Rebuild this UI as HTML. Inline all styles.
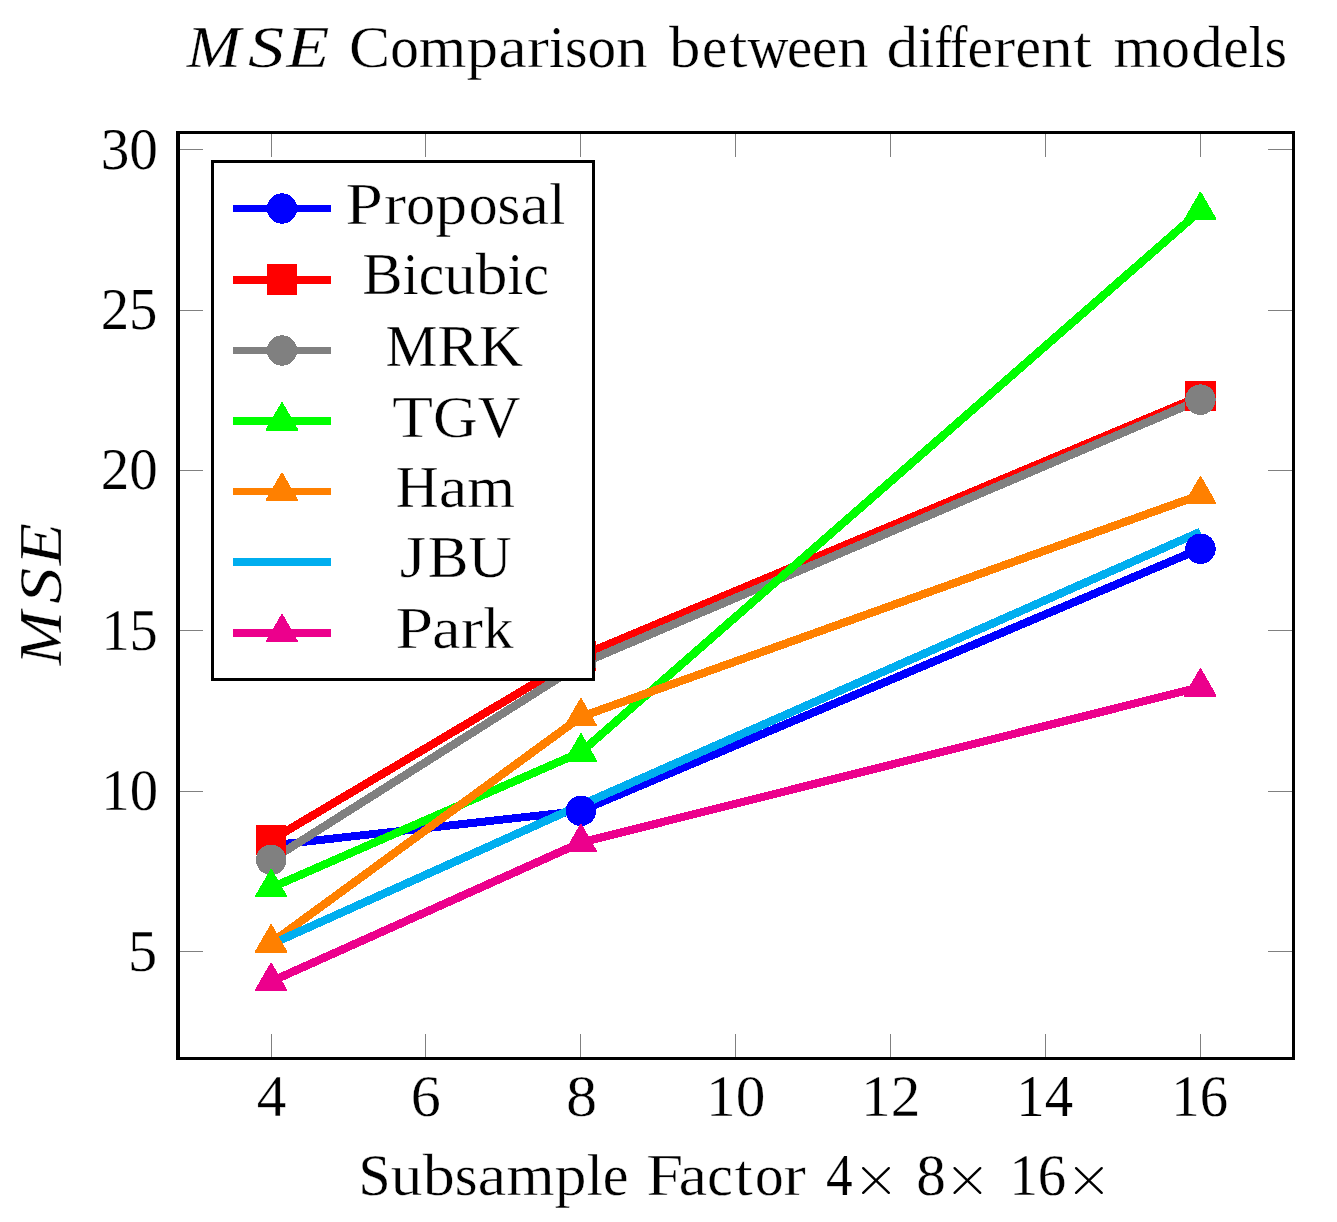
<!DOCTYPE html>
<html lang="en"><head><meta charset="utf-8"><title>MSE Comparison</title><style>html,body{margin:0;padding:0;background:#fff}svg{display:block}</style></head><body>
<svg width="1337" height="1222" viewBox="0 0 1337 1222" font-family="'Liberation Serif', serif" fill="#000">
<rect width="1337" height="1222" fill="#fff"/>
<g fill="#808080" shape-rendering="crispEdges">
<rect x="271" y="1034" width="1" height="23"/><rect x="271" y="134" width="1" height="23"/>
<rect x="425" y="1034" width="1" height="23"/><rect x="425" y="134" width="1" height="23"/>
<rect x="580" y="1034" width="1" height="23"/><rect x="580" y="134" width="1" height="23"/>
<rect x="735" y="1034" width="1" height="23"/><rect x="735" y="134" width="1" height="23"/>
<rect x="890" y="1034" width="1" height="23"/><rect x="890" y="134" width="1" height="23"/>
<rect x="1045" y="1034" width="1" height="23"/><rect x="1045" y="134" width="1" height="23"/>
<rect x="1200" y="1034" width="1" height="23"/><rect x="1200" y="134" width="1" height="23"/>
<rect x="180" y="149" width="23" height="1"/><rect x="1268" y="149" width="24" height="1"/>
<rect x="180" y="310" width="23" height="1"/><rect x="1268" y="310" width="24" height="1"/>
<rect x="180" y="470" width="23" height="1"/><rect x="1268" y="470" width="24" height="1"/>
<rect x="180" y="630" width="23" height="1"/><rect x="1268" y="630" width="24" height="1"/>
<rect x="180" y="791" width="23" height="1"/><rect x="1268" y="791" width="24" height="1"/>
<rect x="180" y="951" width="23" height="1"/><rect x="1268" y="951" width="24" height="1"/>
</g>
<g shape-rendering="crispEdges" fill="none">
<path d="M271.20 845.45L580.96 810.81" stroke="#0000ff" stroke-width="8.00"/>
<path d="M580.96 810.81L1200.48 548.75" stroke="#0000ff" stroke-width="8.21"/>
<path d="M271.20 840.09L580.96 655.88" stroke="#ff0000" stroke-width="8.27"/>
<path d="M580.96 655.88L1200.48 396.06" stroke="#ff0000" stroke-width="8.21"/>
<path d="M271.20 859.88L580.96 663.90" stroke="#808080" stroke-width="8.28"/>
<path d="M580.96 663.90L1200.48 399.59" stroke="#808080" stroke-width="8.21"/>
<path d="M271.20 887.79L580.96 752.17" stroke="#00ff00" stroke-width="8.22"/>
<path d="M580.96 752.17L1200.48 210.47" stroke="#00ff00" stroke-width="8.31"/>
<path d="M271.20 942.96L580.96 716.82" stroke="#ff8000" stroke-width="8.30"/>
<path d="M580.96 716.82L1200.48 494.86" stroke="#ff8000" stroke-width="8.18"/>
<path d="M271.20 944.24L580.96 805.03" stroke="#00aeef" stroke-width="8.22"/>
<path d="M580.96 805.03L1200.48 531.75" stroke="#00aeef" stroke-width="8.22"/>
<path d="M271.20 981.45L580.96 842.56" stroke="#ec008c" stroke-width="8.22"/>
<path d="M580.96 842.56L1200.48 686.99" stroke="#ec008c" stroke-width="8.11"/>
</g>
<g shape-rendering="crispEdges">
<circle cx="271.20" cy="845.45" r="15.2" fill="#0000ff"/>
<circle cx="580.96" cy="810.81" r="15.2" fill="#0000ff"/>
<circle cx="1200.48" cy="548.75" r="15.2" fill="#0000ff"/>
<rect x="256.00" y="824.89" width="30.4" height="30.4" fill="#ff0000"/>
<rect x="565.76" y="640.68" width="30.4" height="30.4" fill="#ff0000"/>
<rect x="1185.28" y="380.86" width="30.4" height="30.4" fill="#ff0000"/>
<circle cx="271.20" cy="859.88" r="15.2" fill="#808080"/>
<circle cx="580.96" cy="663.90" r="15.2" fill="#808080"/>
<circle cx="1200.48" cy="399.59" r="15.2" fill="#808080"/>
<path d="M270.20 869.79L270.60 868.89L271.80 868.89L272.20 869.79L287.00 895.79L287.00 897.39L255.10 897.39L255.10 895.79Z" fill="#00ff00"/>
<path d="M579.96 734.17L580.36 733.27L581.56 733.27L581.96 734.17L596.76 760.17L596.76 761.77L564.86 761.77L564.86 760.17Z" fill="#00ff00"/>
<path d="M1199.48 192.47L1199.88 191.57L1201.08 191.57L1201.48 192.47L1216.28 218.47L1216.28 220.07L1184.38 220.07L1184.38 218.47Z" fill="#00ff00"/>
<path d="M270.20 924.96L270.60 924.06L271.80 924.06L272.20 924.96L287.00 950.96L287.00 952.56L255.10 952.56L255.10 950.96Z" fill="#ff8000"/>
<path d="M579.96 698.82L580.36 697.92L581.56 697.92L581.96 698.82L596.76 724.82L596.76 726.42L564.86 726.42L564.86 724.82Z" fill="#ff8000"/>
<path d="M1199.48 476.86L1199.88 475.96L1201.08 475.96L1201.48 476.86L1216.28 502.86L1216.28 504.46L1184.38 504.46L1184.38 502.86Z" fill="#ff8000"/>
<path d="M270.20 963.45L270.60 962.55L271.80 962.55L272.20 963.45L287.00 989.45L287.00 991.05L255.10 991.05L255.10 989.45Z" fill="#ec008c"/>
<path d="M579.96 824.56L580.36 823.66L581.56 823.66L581.96 824.56L596.76 850.56L596.76 852.16L564.86 852.16L564.86 850.56Z" fill="#ec008c"/>
<path d="M1199.48 668.99L1199.88 668.09L1201.08 668.09L1201.48 668.99L1216.28 694.99L1216.28 696.59L1184.38 696.59L1184.38 694.99Z" fill="#ec008c"/>
</g>
<g fill="#000" shape-rendering="crispEdges">
<rect x="176" y="131" width="4" height="929"/>
<rect x="1292" y="131" width="3" height="929"/>
<rect x="176" y="131" width="1119" height="3"/>
<rect x="176" y="1057" width="1119" height="3"/>
</g>
<g shape-rendering="crispEdges">
<rect x="211" y="160" width="384" height="521" fill="#000"/>
<rect x="214" y="163" width="378" height="515" fill="#fff"/>
<rect x="233" y="205" width="98" height="7" fill="#0000ff"/>
<circle cx="282.00" cy="208.50" r="15.2" fill="#0000ff"/>
<rect x="233" y="276" width="98" height="8" fill="#ff0000"/>
<rect x="266.80" y="264.30" width="30.4" height="30.4" fill="#ff0000"/>
<rect x="233" y="347" width="98" height="7" fill="#808080"/>
<circle cx="282.00" cy="350.50" r="15.2" fill="#808080"/>
<rect x="233" y="417" width="98" height="8" fill="#00ff00"/>
<path d="M281.00 403.00L281.40 402.10L282.60 402.10L283.00 403.00L297.80 429.00L297.80 430.60L265.90 430.60L265.90 429.00Z" fill="#00ff00"/>
<rect x="233" y="488" width="98" height="7" fill="#ff8000"/>
<path d="M281.00 473.40L281.40 472.50L282.60 472.50L283.00 473.40L297.80 499.40L297.80 501.00L265.90 501.00L265.90 499.40Z" fill="#ff8000"/>
<rect x="233" y="558" width="98" height="8" fill="#00aeef"/>
<rect x="233" y="629" width="98" height="8" fill="#ec008c"/>
<path d="M281.00 614.80L281.40 613.90L282.60 613.90L283.00 614.80L297.80 640.80L297.80 642.40L265.90 642.40L265.90 640.80Z" fill="#ec008c"/>
</g>
<g stroke="#fff" stroke-width="0.3">
<text transform="translate(345.31,223.60) scale(1.1600,1)" font-size="58.5" stroke-width="0.65">P</text>
<text transform="translate(383.80,223.60) scale(1.1587,1)" font-size="58.5" stroke-width="0.65">r</text>
<text transform="translate(406.37,223.60) scale(0.9851,1)" font-size="58.5" stroke-width="0.27">o</text>
<text transform="translate(435.18,223.60) scale(1.0947,1)" font-size="58.5" stroke-width="0.51">p</text>
<text transform="translate(468.81,223.60) scale(0.9851,1)" font-size="58.5" stroke-width="0.27">o</text>
<text transform="translate(497.62,223.60) scale(0.9984,1)" font-size="58.5" stroke-width="0.30">s</text>
<text transform="translate(520.35,223.60) scale(1.1097,1)" font-size="58.5" stroke-width="0.54">a</text>
<text transform="translate(549.17,223.60) scale(0.9850,1)" font-size="58.5" stroke-width="0.27">l</text>
<text transform="translate(362.30,294.10) scale(1.0372,1)" font-size="58.5" stroke-width="0.38">B</text>
<text transform="translate(402.77,294.10) scale(0.9766,1)" font-size="58.5" stroke-width="0.25">i</text>
<text transform="translate(418.65,294.10) scale(0.9779,1)" font-size="58.5" stroke-width="0.25">c</text>
<text transform="translate(444.04,294.10) scale(1.0854,1)" font-size="58.5" stroke-width="0.49">u</text>
<text transform="translate(475.79,294.10) scale(1.0854,1)" font-size="58.5" stroke-width="0.49">b</text>
<text transform="translate(507.53,294.10) scale(0.9766,1)" font-size="58.5" stroke-width="0.25">i</text>
<text transform="translate(523.41,294.10) scale(0.9779,1)" font-size="58.5" stroke-width="0.25">c</text>
<text transform="translate(385.41,365.60) scale(0.9810,1)" font-size="59.5" stroke-width="0.26">M</text>
<text transform="translate(437.31,365.60) scale(1.0501,1)" font-size="59.5" stroke-width="0.41">R</text>
<text transform="translate(478.98,365.60) scale(1.0248,1)" font-size="59.5" stroke-width="0.35">K</text>
<text transform="translate(391.90,436.70) scale(1.1313,1)" font-size="59.5" stroke-width="0.59">T</text>
<text transform="translate(433.02,436.70) scale(1.0397,1)" font-size="59.5" stroke-width="0.39">G</text>
<text transform="translate(477.70,436.70) scale(0.9938,1)" font-size="59.5" stroke-width="0.29">V</text>
<text transform="translate(395.69,506.60) scale(1.0087,1)" font-size="59" stroke-width="0.32">H</text>
<text transform="translate(438.67,506.60) scale(1.0941,1)" font-size="59" stroke-width="0.51">a</text>
<text transform="translate(467.32,506.60) scale(1.0405,1)" font-size="59" stroke-width="0.39">m</text>
<text transform="translate(399.59,576.50) scale(1.1600,1)" font-size="59.5" stroke-width="0.65">J</text>
<text transform="translate(427.81,576.50) scale(1.0271,1)" font-size="59.5" stroke-width="0.36">B</text>
<text transform="translate(468.57,576.50) scale(1.0045,1)" font-size="59.5" stroke-width="0.31">U</text>
<text transform="translate(395.16,648.30) scale(1.1600,1)" font-size="59" stroke-width="0.65">P</text>
<text transform="translate(432.10,648.30) scale(1.0942,1)" font-size="59" stroke-width="0.51">a</text>
<text transform="translate(460.75,648.30) scale(1.1425,1)" font-size="59" stroke-width="0.61">r</text>
<text transform="translate(483.20,648.30) scale(1.0254,1)" font-size="59" stroke-width="0.36">k</text>
<text transform="translate(100.67,168.70) scale(0.9704,1)" font-size="59" stroke-width="0.25">3</text>
<text transform="translate(129.30,168.70) scale(0.9704,1)" font-size="59" stroke-width="0.25">0</text>
<text transform="translate(100.72,329.08) scale(0.9624,1)" font-size="59" stroke-width="0.25">2</text>
<text transform="translate(129.11,329.08) scale(0.9624,1)" font-size="59" stroke-width="0.25">5</text>
<text transform="translate(100.68,489.46) scale(0.9663,1)" font-size="59" stroke-width="0.25">2</text>
<text transform="translate(129.19,489.46) scale(0.9663,1)" font-size="59" stroke-width="0.25">0</text>
<text transform="translate(101.39,649.84) scale(0.9539,1)" font-size="59" stroke-width="0.25">1</text>
<text transform="translate(129.53,649.84) scale(0.9539,1)" font-size="59" stroke-width="0.25">5</text>
<text transform="translate(101.34,810.22) scale(0.9620,1)" font-size="59" stroke-width="0.25">1</text>
<text transform="translate(129.72,810.22) scale(0.9620,1)" font-size="59" stroke-width="0.25">0</text>
<text transform="translate(127.92,970.60) scale(0.9897,1)" font-size="59" stroke-width="0.28">5</text>
<text transform="translate(256.69,1116.30) scale(1.0027,1)" font-size="59" stroke-width="0.31">4</text>
<text transform="translate(410.65,1116.30) scale(1.0203,1)" font-size="59" stroke-width="0.34">6</text>
<text transform="translate(566.06,1116.30) scale(1.0562,1)" font-size="59" stroke-width="0.42">8</text>
<text transform="translate(706.09,1116.30) scale(1.0053,1)" font-size="59" stroke-width="0.31">1</text>
<text transform="translate(735.75,1116.30) scale(1.0053,1)" font-size="59" stroke-width="0.31">0</text>
<text transform="translate(861.09,1116.30) scale(1.0060,1)" font-size="59" stroke-width="0.31">1</text>
<text transform="translate(890.76,1116.30) scale(1.0060,1)" font-size="59" stroke-width="0.31">2</text>
<text transform="translate(1016.34,1116.30) scale(0.9623,1)" font-size="59" stroke-width="0.25">1</text>
<text transform="translate(1044.73,1116.30) scale(0.9623,1)" font-size="59" stroke-width="0.25">4</text>
<text transform="translate(1171.34,1116.30) scale(0.9622,1)" font-size="59" stroke-width="0.25">1</text>
<text transform="translate(1199.73,1116.30) scale(0.9622,1)" font-size="59" stroke-width="0.25">6</text>
<text transform="translate(186.65,67.00) scale(1.0824,1)" font-size="60" font-style="italic">M</text>
<text transform="translate(248.08,67.00) scale(1.2070,1)" font-size="60" font-style="italic">S</text>
<text transform="translate(286.60,67.00) scale(1.1708,1)" font-size="60" font-style="italic">E</text>
<text transform="translate(349.00,67.00) scale(1.0573,1)" font-size="58.5" stroke-width="0.43">C</text>
<text transform="translate(390.26,67.00) scale(0.9765,1)" font-size="58.5" stroke-width="0.25">o</text>
<text transform="translate(418.82,67.00) scale(1.0461,1)" font-size="58.5" stroke-width="0.40">m</text>
<text transform="translate(466.42,67.00) scale(1.0850,1)" font-size="58.5" stroke-width="0.49">p</text>
<text transform="translate(498.16,67.00) scale(1.1000,1)" font-size="58.5" stroke-width="0.52">a</text>
<text transform="translate(526.72,67.00) scale(1.1485,1)" font-size="58.5" stroke-width="0.63">r</text>
<text transform="translate(549.09,67.00) scale(0.9763,1)" font-size="58.5" stroke-width="0.25">i</text>
<text transform="translate(564.96,67.00) scale(0.9896,1)" font-size="58.5" stroke-width="0.28">s</text>
<text transform="translate(587.49,67.00) scale(0.9765,1)" font-size="58.5" stroke-width="0.25">o</text>
<text transform="translate(616.05,67.00) scale(1.0850,1)" font-size="58.5" stroke-width="0.49">n</text>
<text transform="translate(668.90,67.00) scale(1.0757,1)" font-size="58.5" stroke-width="0.47">b</text>
<text transform="translate(701.94,67.00) scale(0.9692,1)" font-size="58.5" stroke-width="0.25">e</text>
<text transform="translate(728.69,67.00) scale(1.1600,1)" font-size="58.5" stroke-width="0.65">t</text>
<text transform="translate(747.56,67.00) scale(0.9681,1)" font-size="58.5" stroke-width="0.25">w</text>
<text transform="translate(786.88,67.00) scale(0.9692,1)" font-size="58.5" stroke-width="0.25">e</text>
<text transform="translate(812.05,67.00) scale(0.9692,1)" font-size="58.5" stroke-width="0.25">e</text>
<text transform="translate(837.21,67.00) scale(1.0757,1)" font-size="58.5" stroke-width="0.47">n</text>
<text transform="translate(886.49,67.00) scale(1.0877,1)" font-size="58.5" stroke-width="0.49">d</text>
<text transform="translate(918.30,67.00) scale(0.9787,1)" font-size="58.5" stroke-width="0.25">i</text>
<text transform="translate(934.21,67.00) scale(0.8983,1)" font-size="58.5" stroke-width="0.25">f</text>
<text transform="translate(950.12,67.00) scale(0.8983,1)" font-size="58.5" stroke-width="0.25">f</text>
<text transform="translate(967.62,67.00) scale(0.9801,1)" font-size="58.5" stroke-width="0.26">e</text>
<text transform="translate(993.07,67.00) scale(1.1514,1)" font-size="58.5" stroke-width="0.63">r</text>
<text transform="translate(1015.50,67.00) scale(0.9801,1)" font-size="58.5" stroke-width="0.26">e</text>
<text transform="translate(1040.94,67.00) scale(1.0877,1)" font-size="58.5" stroke-width="0.49">n</text>
<text transform="translate(1072.88,67.00) scale(1.1600,1)" font-size="58.5" stroke-width="0.65">t</text>
<text transform="translate(1113.48,67.00) scale(1.0477,1)" font-size="58.5" stroke-width="0.40">m</text>
<text transform="translate(1161.16,67.00) scale(0.9779,1)" font-size="58.5" stroke-width="0.25">o</text>
<text transform="translate(1191.35,67.00) scale(1.0867,1)" font-size="58.5" stroke-width="0.49">d</text>
<text transform="translate(1223.14,67.00) scale(0.9791,1)" font-size="58.5" stroke-width="0.25">e</text>
<text transform="translate(1248.56,67.00) scale(0.9778,1)" font-size="58.5" stroke-width="0.25">l</text>
<text transform="translate(1264.45,67.00) scale(0.9911,1)" font-size="58.5" stroke-width="0.28">s</text>
<text transform="translate(358.45,1195.20) scale(0.9866,1)" font-size="58.5" stroke-width="0.27">S</text>
<text transform="translate(390.55,1195.20) scale(1.0974,1)" font-size="58.5" stroke-width="0.51">u</text>
<text transform="translate(422.65,1195.20) scale(1.0974,1)" font-size="58.5" stroke-width="0.51">b</text>
<text transform="translate(454.75,1195.20) scale(1.0008,1)" font-size="58.5" stroke-width="0.30">s</text>
<text transform="translate(477.53,1195.20) scale(1.1125,1)" font-size="58.5" stroke-width="0.55">a</text>
<text transform="translate(506.42,1195.20) scale(1.0580,1)" font-size="58.5" stroke-width="0.43">m</text>
<text transform="translate(554.56,1195.20) scale(1.0974,1)" font-size="58.5" stroke-width="0.51">p</text>
<text transform="translate(586.66,1195.20) scale(0.9874,1)" font-size="58.5" stroke-width="0.27">l</text>
<text transform="translate(602.71,1195.20) scale(0.9888,1)" font-size="58.5" stroke-width="0.28">e</text>
<text transform="translate(645.89,1195.20) scale(1.1493,1)" font-size="58.5" stroke-width="0.63">F</text>
<text transform="translate(678.51,1195.20) scale(1.1030,1)" font-size="58.5" stroke-width="0.53">a</text>
<text transform="translate(707.15,1195.20) scale(0.9803,1)" font-size="58.5" stroke-width="0.26">c</text>
<text transform="translate(734.31,1195.20) scale(1.1600,1)" font-size="58.5" stroke-width="0.65">t</text>
<text transform="translate(754.88,1195.20) scale(0.9791,1)" font-size="58.5" stroke-width="0.25">o</text>
<text transform="translate(783.52,1195.20) scale(1.1517,1)" font-size="58.5" stroke-width="0.63">r</text>
<text transform="translate(826.07,1195.00) scale(0.8966,1)" font-size="59.5" stroke-width="0.25">4</text>
<text transform="translate(916.20,1195.00) scale(1.0040,1)" font-size="59" stroke-width="0.31">8</text>
<text transform="translate(1009.41,1195.00) scale(0.9622,1)" font-size="59" stroke-width="0.25">1</text>
<text transform="translate(1037.80,1195.00) scale(0.9622,1)" font-size="59" stroke-width="0.25">6</text>
</g>
<g stroke="#000" stroke-width="2.4" fill="none" stroke-linecap="round">
<path d="M863.2 1168.2L888.8 1192.8M863.2 1192.8L888.8 1168.2"/>
<path d="M954.6 1168.2L980.1999999999999 1192.8M954.6 1192.8L980.1999999999999 1168.2"/>
<path d="M1076.1000000000001 1168.2L1101.7 1192.8M1076.1000000000001 1192.8L1101.7 1168.2"/>
</g>
<g stroke="#fff" stroke-width="0.3">
<text transform="translate(61.0,665.8) rotate(-90) translate(0.65,0.00) scale(1.0735,1)" font-size="60.5" font-style="italic">M</text>
<text transform="translate(61.0,665.8) rotate(-90) translate(62.08,0.00) scale(1.1970,1)" font-size="60.5" font-style="italic">S</text>
<text transform="translate(61.0,665.8) rotate(-90) translate(100.59,0.00) scale(1.1475,1)" font-size="60.5" font-style="italic">E</text>
</g>
</svg>
</body></html>
